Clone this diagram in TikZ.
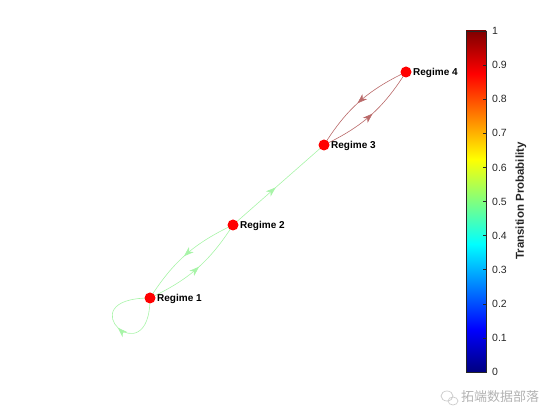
\documentclass[tikz,border=0pt]{standalone}
\usepackage{fontspec}
\setmainfont{Liberation Sans}
\newfontfamily\cjkfont{Noto Sans CJK SC}
\usetikzlibrary{arrows.meta,decorations.markings,backgrounds}
\definecolor{jetA}{rgb}{0,0,0.5}
\definecolor{jetB}{rgb}{0,0,1}
\definecolor{jetC}{rgb}{0,1,1}
\definecolor{jetD}{rgb}{1,1,0}
\definecolor{jetE}{rgb}{1,0,0}
\definecolor{jetF}{rgb}{0.5,0,0}
\definecolor{lowgreen}{RGB}{168,244,168}
\definecolor{highred}{RGB}{186,106,106}
\definecolor{axisgray}{rgb}{0.15,0.15,0.15}
\pgfdeclareverticalshading{jetmap}{100bp}{color(0bp)=(jetA); color(25bp)=(jetA);
  color(31.25bp)=(jetB); color(43.75bp)=(jetC); color(56.25bp)=(jetD);
  color(68.75bp)=(jetE); color(75bp)=(jetF); color(100bp)=(jetF)}

\begin{document}
\begin{tikzpicture}[
  x=1pt, y=1pt,
  regime/.style={circle, fill=red, inner sep=0pt, minimum size=11pt},
  tag/.style={font=\bfseries\fontsize{10}{12}\selectfont, inner sep=0pt, anchor=west},
  ticklab/.style={font=\fontsize{10.5}{12}\selectfont, text=axisgray, inner sep=0pt, anchor=west},
  mid arrow/.style={postaction={decorate}, decoration={markings,
      mark=at position #1 with {\arrow{Stealth[length=10pt,width=7pt,inset=3pt]}}}},
  lowp/.style={draw=lowgreen, line width=0.6pt},
  highp/.style={draw=highred, line width=0.6pt}
]
  \useasboundingbox (0,0) rectangle (560,420);

  % regimes
  \node[regime] (r1) at (150,122) {};
  \node[regime] (r2) at (233,195) {};
  \node[regime] (r3) at (324,275) {};
  \node[regime] (r4) at (406,348) {};
  \node[tag] (t1) at (157,121) {Regime 1};
  \node[tag] (t2) at (240,194) {Regime 2};
  \node[tag] (t3) at (331,274) {Regime 3};
  \node[tag] (t4) at (413,347) {Regime 4};

  % transitions
  \begin{scope}[on background layer]
    \draw[lowp, mid arrow=0.5] (r1.center) .. controls +(0,-80) and +(-85,0) .. (r1.center);
    \draw[lowp, mid arrow=0.52] (r1.center) to[bend right=16] (r2.center);
    \draw[lowp, mid arrow=0.52] (r2.center) to[bend right=16] (r1.center);
    \draw[lowp, mid arrow=0.47] (r2.center) -- (r3.center);
    \draw[highp, mid arrow=0.52] (r3.center) to[bend right=16] (r4.center);
    \draw[highp, mid arrow=0.52] (r4.center) to[bend right=16] (r3.center);
  \end{scope}

  % colour bar
  \node[draw=axisgray, line width=0.5pt, shading=jetmap, inner sep=0pt,
        minimum width=20pt, minimum height=341pt] (cbar) at (476,218.5) {};
  \foreach \v/\lab in {0/0,1/0.1,2/0.2,3/0.3,4/0.4,5/0.5,6/0.6,7/0.7,8/0.8,9/0.9,10/1} {
    \draw[axisgray, line width=0.5pt] (486,48+34.1*\v) -- ++(-3,0);
    \node[ticklab] at (492,48+34.1*\v) {\lab};
  }
  \node[font=\bfseries\fontsize{11.5}{13}\selectfont, text=axisgray, rotate=90]
    (ctitle) at (521,219) {Transition Probability};

  % watermark
  \draw[gray!40, line width=0.7pt] (447,24) ellipse (6pt and 5pt);
  \draw[gray!40, line width=0.7pt] (453,19) ellipse (5pt and 4pt);
  \node[font=\cjkfont\fontsize{13}{15}\selectfont, text=gray!60, inner sep=0pt]
    (mark) at (500,23) {拓端数据部落};
\end{tikzpicture}
\end{document}
